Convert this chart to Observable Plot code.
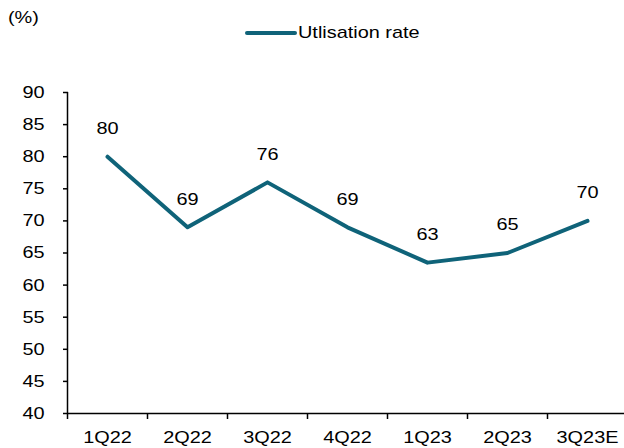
<!DOCTYPE html>
<html>
<head>
<meta charset="utf-8">
<script src="https://cdn.jsdelivr.net/npm/d3@7"></script>
<script src="https://cdn.jsdelivr.net/npm/@observablehq/plot@0.6"></script>
<style>
  body { margin: 0; background: #fff; font-family: "Liberation Sans", Arial, sans-serif; }
  #wrap { position: relative; width: 624px; height: 448px; overflow: hidden; }
  #unit { position: absolute; left: 8px; top: 8px; font-size: 17px; color: #000; transform: scaleX(1.17); transform-origin: left center; }
  #legend { position: absolute; left: 245px; top: 23px; font-size: 17px; color: #000; display: flex; align-items: center; }
  #legend .sw { width: 52px; height: 4px; background: #0f6379; border-radius: 2px; margin-right: 1px; }
  #legend .tx { display: inline-block; transform: scaleX(1.17); transform-origin: left center; }
</style>
</head>
<body>
<div id="wrap">
  <div id="unit">(%)</div>
  <div id="legend"><span class="sw"></span><span class="tx">Utlisation rate</span></div>
</div>
<script>
const categories = ["1Q22", "2Q22", "3Q22", "4Q22", "1Q23", "2Q23", "3Q23E"];
const values = [80, 69, 76, 69, 63.5, 65, 70];
const labels = ["80", "69", "76", "69", "63", "65", "70"];
const yTicks = [40, 45, 50, 55, 60, 65, 70, 75, 80, 85, 90];

const data = categories.map((c, i) => ({i, c, v: values[i], l: labels[i]}));
const boundaries = d3.range(categories.length + 1).map(i => i - 0.5);
const color = "#0f6379";

const chart = Plot.plot({
  width: 624,
  height: 448,
  marginTop: 92,
  marginBottom: 35,
  marginLeft: 68,
  marginRight: 0,
  style: {fontFamily: "'Liberation Sans', Arial, sans-serif", fontSize: "17px", color: "#000", background: "transparent"},
  x: {domain: [-0.5, 6.5], range: [67, 627]},
  y: {domain: [40, 90]},
  marks: [
    Plot.ruleY([40], {stroke: "#000", strokeWidth: 1.5}),
    Plot.ruleX([-0.5], {stroke: "#000", strokeWidth: 1.5}),
    Plot.axisY({ticks: yTicks, tickSize: 5, tickPadding: 19, stroke: "#000", strokeWidth: 1.5, fontSize: 17, label: null, strokeOpacity: 1}),
    Plot.axisX({ticks: boundaries, tickSize: 6, tickFormat: () => "", strokeWidth: 1.5, strokeOpacity: 1, label: null}),
    Plot.axisX({ticks: d3.range(categories.length), tickSize: 0, tickPadding: 17, tickFormat: i => categories[i], fontSize: 17, label: null}),
    Plot.line(data, {x: "i", y: "v", stroke: color, strokeWidth: 4, strokeLinejoin: "round", strokeLinecap: "round"}),
    Plot.text(data, {x: "i", y: "v", text: "l", dy: -28, fontSize: 17, fill: "#000"})
  ]
});
document.getElementById("wrap").prepend(chart);
chart.style.position = "absolute";
chart.style.left = "0";
chart.style.top = "0";

// horizontally widen glyphs to match the reference's stretched type
const SX = 1.17;
chart.querySelectorAll("text").forEach(t => {
  if (!t.textContent) return;
  const b = t.getBBox();
  const isY = !!t.closest("g[aria-label='y-axis tick label']");
  const ax = isY ? b.x + b.width : b.x + b.width / 2;
  const prev = t.getAttribute("transform") || "";
  t.setAttribute("transform", `${prev} translate(${ax},0) scale(${SX},1) translate(${-ax},0)`);
});
</script>
</body>
</html>
